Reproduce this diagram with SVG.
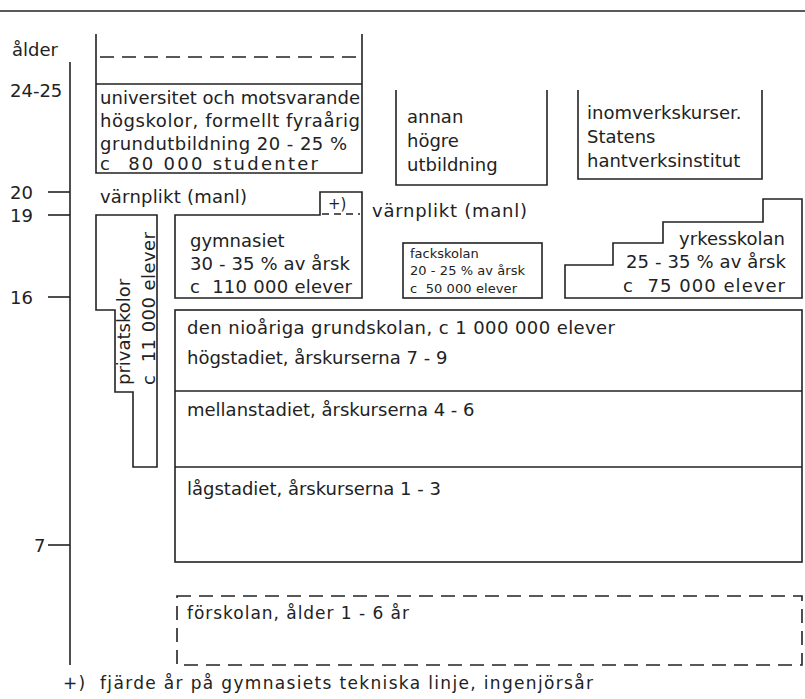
<svg xmlns="http://www.w3.org/2000/svg" width="805" height="699" viewBox="0 0 805 699">
<style>
.ln{fill:none;stroke:#222;stroke-width:1.6}
.ds{fill:none;stroke:#222;stroke-width:1.6;stroke-dasharray:14 8}
text{font-family:"DejaVu Sans","Liberation Sans",sans-serif;fill:#222;font-size:18px;white-space:pre}
.sm{font-size:13px}
.fn{font-size:17px}
</style>
<rect width="805" height="699" fill="#fff"/>
<g id="axis">
<line class="ln" x1="0" y1="11" x2="805" y2="11"/>
<line class="ln" x1="70" y1="62" x2="70" y2="665"/>
<line class="ln" x1="48" y1="192" x2="70" y2="192"/>
<line class="ln" x1="48" y1="215" x2="70" y2="215"/>
<line class="ln" x1="48" y1="297" x2="70" y2="297"/>
<line class="ln" x1="48" y1="545" x2="70" y2="545"/>
<text x="12" y="56">ålder</text>
<text x="10" y="97">24-25</text>
<text x="10" y="199">20</text>
<text x="10" y="222">19</text>
<text x="10" y="304">16</text>
<text x="34" y="552">7</text>
</g>
<g id="universitet">
<path class="ln" d="M96,34 V173 H362 V34 M96,84 H362"/>
<line class="ds" x1="100" y1="57" x2="360" y2="57"/>
<text x="100" y="104" textLength="260" lengthAdjust="spacing">universitet och motsvarande</text>
<text x="100" y="127" textLength="260" lengthAdjust="spacing">högskolor, formellt fyraårig</text>
<text x="100" y="150" textLength="247" lengthAdjust="spacing">grundutbildning 20 - 25 %</text>
<text x="100" y="170" textLength="218" lengthAdjust="spacing">c  80 000 studenter</text>
</g>
<g id="annan">
<path class="ln" d="M396,90 V185 H547 V90"/>
<text x="407" y="123">annan</text>
<text x="407" y="147">högre</text>
<text x="407" y="171">utbildning</text>
</g>
<g id="inom">
<path class="ln" d="M578,90 V179 H762 V90"/>
<text x="587" y="119">inomverkskurser.</text>
<text x="587" y="143">Statens</text>
<text x="587" y="167">hantverksinstitut</text>
</g>
<g id="varnplikt1">
<text x="100" y="203" textLength="147" lengthAdjust="spacing">värnplikt (manl)</text>
</g>
<g id="gymnasiet">
<path class="ln" d="M175,215 H320 V192 H362 V298 H175 Z"/>
<line class="ln" x1="322" y1="214" x2="360" y2="214" stroke-dasharray="7 5"/>
<text x="328" y="209" style="font-size:15px">+)</text>
<text x="190" y="247">gymnasiet</text>
<text x="190" y="270" textLength="160" lengthAdjust="spacing">30 - 35 % av årsk</text>
<text x="190" y="293" textLength="162" lengthAdjust="spacing">c  110 000 elever</text>
</g>
<g id="privatskolor">
<path class="ln" d="M96,215 H157 V467 H133 V392 H115 V310 H96 Z"/>
<text transform="translate(130,385) rotate(-90)">privatskolor</text>
<text transform="translate(155,385) rotate(-90)" textLength="153" lengthAdjust="spacing">c  11 000 elever</text>
</g>
<g id="varnplikt2">
<text x="372" y="217" textLength="155" lengthAdjust="spacing">värnplikt (manl)</text>
</g>
<g id="fackskolan">
<rect class="ln" x="403" y="243" width="139" height="55"/>
<text class="sm" x="410" y="258">fackskolan</text>
<text class="sm" x="410" y="275" textLength="115" lengthAdjust="spacing">20 - 25 % av årsk</text>
<text class="sm" x="410" y="293" textLength="107" lengthAdjust="spacing">c  50 000 elever</text>
</g>
<g id="yrkesskolan">
<path class="ln" d="M565,298 V265 H613 V243 H663 V222 H763 V199 H802 V298 Z"/>
<text x="785" y="245" text-anchor="end">yrkesskolan</text>
<text x="786" y="268" text-anchor="end" textLength="160" lengthAdjust="spacing">25 - 35 % av årsk</text>
<text x="785" y="292" text-anchor="end" textLength="162" lengthAdjust="spacing">c  75 000 elever</text>
</g>
<g id="grundskolan">
<rect class="ln" x="175" y="310" width="627" height="252"/>
<line class="ln" x1="175" y1="391" x2="802" y2="391"/>
<line class="ln" x1="175" y1="467" x2="802" y2="467"/>
<text x="187" y="334" textLength="428" lengthAdjust="spacing">den nioåriga grundskolan, c 1 000 000 elever</text>
<text x="187" y="364">högstadiet, årskurserna 7 - 9</text>
<text x="187" y="416">mellanstadiet, årskurserna 4 - 6</text>
<text x="187" y="495">lågstadiet, årskurserna 1 - 3</text>
</g>
<g id="forskolan">
<rect class="ds" x="177" y="596" width="625" height="69"/>
<text class="fn" x="187" y="619" textLength="222" lengthAdjust="spacing">förskolan, ålder 1 - 6 år</text>
</g>
<g id="footnote">
<text class="fn" x="63" y="689" textLength="530" lengthAdjust="spacing">+)  fjärde år på gymnasiets tekniska linje, ingenjörsår</text>
</g>
</svg>
